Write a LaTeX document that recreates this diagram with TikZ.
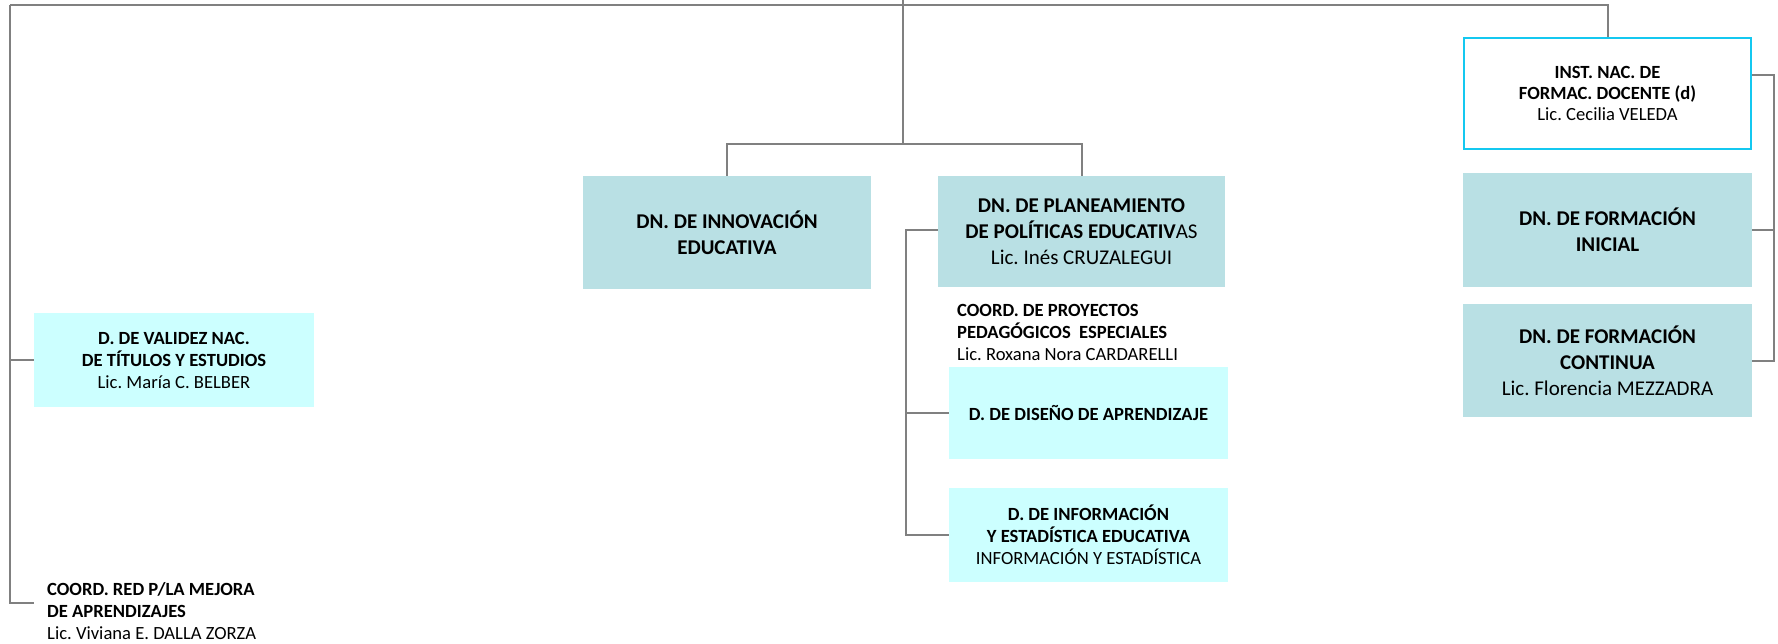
\documentclass[tikz,border=0pt]{standalone}
\usepackage{fontspec}
\setmainfont{Carlito}
\frenchspacing
\definecolor{dnfill}{RGB}{185,224,228}
\definecolor{dfill}{RGB}{204,255,255}
\definecolor{instborder}{RGB}{20,200,240}
\definecolor{linegray}{RGB}{128,128,128}
\tikzset{
  dnbox/.style={rectangle, fill=dnfill, draw=none, inner sep=0pt, align=center,
    font=\fontsize{21}{26}\selectfont},
  dbox/.style={rectangle, fill=dfill, draw=none, inner sep=0pt, align=center,
    font=\fontsize{18.6}{22}\selectfont},
  instbox/.style={rectangle, fill=white, draw=instborder, line width=2pt, inner sep=0pt, align=center,
    font=\fontsize{18.6}{21}\selectfont},
  freetext/.style={inner sep=0pt, align=left, font=\fontsize{18.6}{22}\selectfont},
  conn/.style={draw=linegray, line width=2pt},
}
\begin{document}
\begin{tikzpicture}[x=1pt,y=-1pt]
\useasboundingbox (0,0) rectangle (1778,644);
% boxes
\node[dnbox, minimum width=288pt, minimum height=113pt] (innov) at (727,232.5)
  {\textbf{DN. DE INNOVACIÓN}\\\textbf{EDUCATIVA}};
\node[dnbox, minimum width=287pt, minimum height=111pt] (plan) at (1081.5,231.5)
  {\textbf{DN. DE PLANEAMIENTO}\\\textbf{DE POLÍTICAS EDUCATIV}AS\\Lic. Inés CRUZALEGUI};
\node[instbox, minimum width=287pt, minimum height=111pt] (inst) at (1607.5,93.5)
  {\textbf{INST. NAC. DE}\\\textbf{FORMAC. DOCENTE (d)}\\Lic. Cecilia VELEDA};
\node[dnbox, minimum width=289pt, minimum height=114pt] (ini) at (1607.5,230)
  {\textbf{DN. DE FORMACIÓN}\\\textbf{INICIAL}};
\node[dnbox, minimum width=289pt, minimum height=113pt] (cont) at (1607.5,360.5)
  {\textbf{DN. DE FORMACIÓN}\\\textbf{CONTINUA}\\Lic. Florencia MEZZADRA};
\node[dbox, minimum width=280pt, minimum height=94pt] (val) at (174,360)
  {\textbf{D. DE VALIDEZ NAC.}\\\textbf{DE TÍTULOS Y ESTUDIOS}\\Lic. María C. BELBER};
\node[dbox, minimum width=279pt, minimum height=92pt] (dis) at (1088.5,413)
  {\textbf{D. DE DISEÑO DE APRENDIZAJE}};
\node[dbox, minimum width=279pt, minimum height=94pt] (info) at (1088.5,535)
  {\textbf{D. DE INFORMACIÓN}\\\textbf{Y ESTADÍSTICA EDUCATIVA}\\INFORMACIÓN Y ESTADÍSTICA};
\node[freetext, anchor=north west] (proy) at (957,304)
  {\textbf{COORD. DE PROYECTOS}\\\textbf{PEDAGÓGICOS\hspace{0.45em}ESPECIALES}\\Lic. Roxana Nora CARDARELLI};
\node[freetext, anchor=north west] (red) at (47,582)
  {\textbf{COORD. RED P/LA MEJORA}\\\textbf{DE APRENDIZAJES}\\Lic. Viviana E. DALLA ZORZA};
% coordinates
\coordinate (top) at (903,0);
\coordinate (mid) at (903,144);
\coordinate (lt) at (10,5);
\coordinate (redc) at (34,603);
\coordinate (ri) at (1774,75);
\coordinate (pv) at (906,230);
% connectors
\draw[conn] (lt) -| (inst.north);
\draw[conn] (top) -- (mid);
\draw[conn] (innov.north) |- (mid) -| (plan.north);
\draw[conn] (lt) |- (val.west);
\draw[conn] (lt) |- (redc);
\draw[conn] (inst.east |- ri) -- (ri) |- (cont.east);
\draw[conn] (ini.east) -- (ini.east -| ri);
\draw[conn] (plan.west |- pv) -- (pv) |- (info.west);
\draw[conn] (dis.west) -- (dis.west -| pv);
\end{tikzpicture}
\end{document}
